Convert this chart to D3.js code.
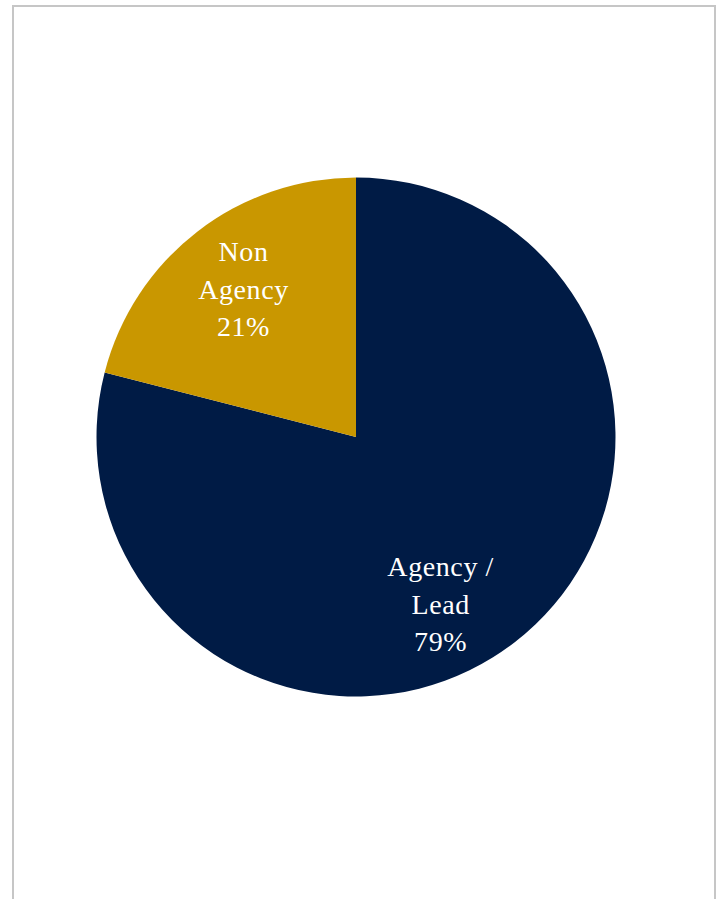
<!DOCTYPE html>
<html>
<head>
<meta charset="utf-8">
<script src="https://cdn.jsdelivr.net/npm/d3@7"></script>
<style>
  html, body { margin: 0; padding: 0; background: #ffffff; }
  svg { display: block; }
</style>
</head>
<body>
<svg id="chart" width="721" height="899"></svg>
<script>
// Share of volume by channel
const categories = ["Agency / Lead", "Non Agency"];
const shares = [79, 21];
const labelLines = [["Agency /", "Lead"], ["Non", "Agency"]];
const colors = ["#001b45", "#c99700"];

const svg = d3.select("#chart");
const W = 721, H = 899;

// Frame around the chart area (open at the bottom edge)
svg.append("path")
  .attr("d", `M13,${H} L13,6 L715,6 L715,${H}`)
  .attr("fill", "none")
  .attr("stroke", "#c6c6c6")
  .attr("stroke-width", 2);

const cx = 356, cy = 437, R = 259.5;

const data = categories.map((c, i) => ({ name: c, value: shares[i], lines: labelLines[i], color: colors[i] }));

const pie = d3.pie().value(d => d.value).sort(null);
const arcs = pie(data);
const arc = d3.arc().innerRadius(0).outerRadius(R);

const g = svg.append("g").attr("transform", `translate(${cx},${cy})`);

g.selectAll("path.slice")
  .data(arcs)
  .join("path")
  .attr("class", "slice")
  .attr("d", arc)
  .attr("fill", d => d.data.color);

// Labels placed along a ring inside the pie; the large slice label sits nearer the bottom
const labelRadius = [187, 186];
const labelAngleShift = [0.19, 0.01];
const lineH = 37.5;

arcs.forEach((a, i) => {
  const mid = (a.startAngle + a.endAngle) / 2 + labelAngleShift[i];
  const lx = labelRadius[i] * Math.sin(mid);
  const ly = -labelRadius[i] * Math.cos(mid);
  const lines = [...a.data.lines, d3.format(".0f")(a.data.value) + "%"];
  const t = g.append("text")
    .attr("x", lx)
    .attr("y", ly)
    .attr("text-anchor", "middle")
    .attr("fill", "#ffffff")
    .attr("font-family", "'Liberation Serif', 'DejaVu Serif', serif")
    .attr("font-size", 28)
    .attr("letter-spacing", "0.6px");
  lines.forEach((ln, k) => {
    t.append("tspan")
      .attr("x", lx)
      .attr("y", ly + (k - (lines.length - 1) / 2) * lineH)
      .attr("dy", "0.35em")
      .text(ln);
  });
});
</script>
</body>
</html>
